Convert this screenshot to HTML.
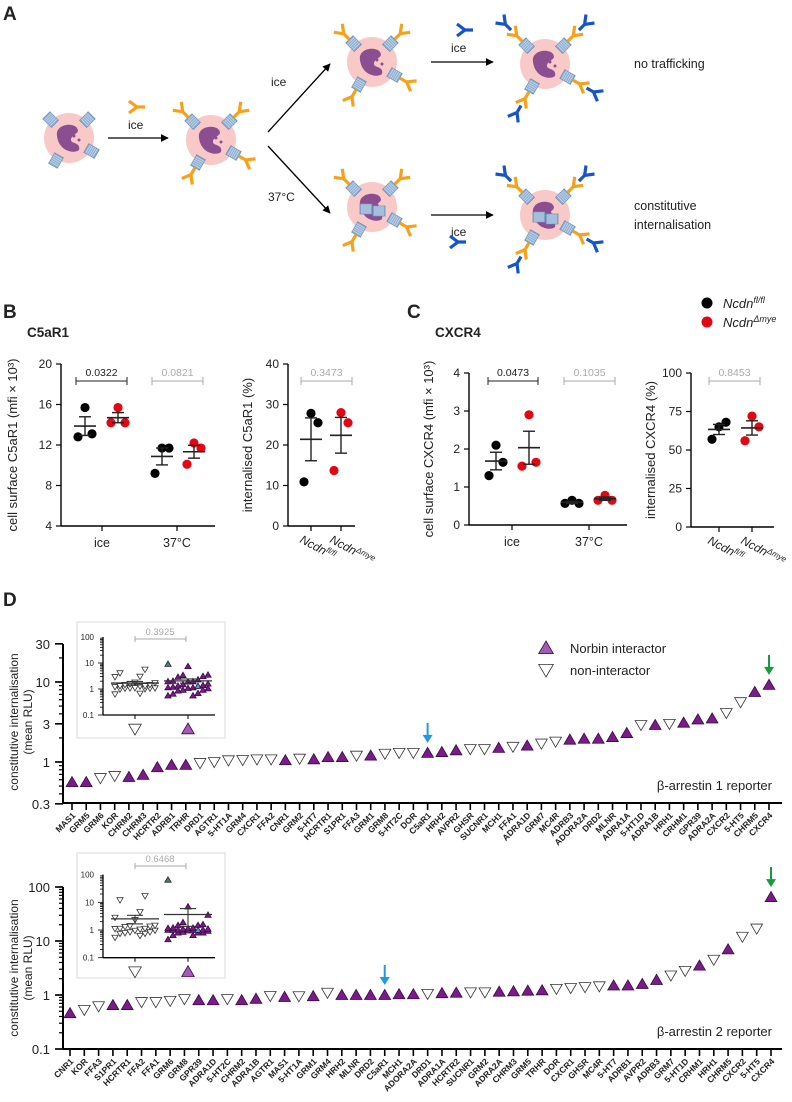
<!DOCTYPE html>
<html><head><meta charset="utf-8">
<style>
html,body{margin:0;padding:0;background:#fff;}
svg{display:block;font-family:"Liberation Sans",sans-serif;}
.t{font-family:"Liberation Sans",sans-serif;fill:#222;}
</style></head>
<body>
<svg id="fig" width="792" height="1102" viewBox="0 0 792 1102" xmlns="http://www.w3.org/2000/svg">
<g id="panelA"></g>
<g id="panelB"></g>
<g id="panelC"></g>
<g id="panelD1"></g>
<g id="panelD2"></g>
</svg>
<script>
// ===== Panel B data =====
const bIceBlack=[15.7,13.1,12.8];
const bIceRed=[15.7,14.2,14.2];
const b37Black=[11.7,11.7,9.2];
const b37Red=[12.2,11.7,10.1];
const bIntBlack=[27.8,25.5,10.9];
const bIntRed=[28.0,25.5,13.7];
const bPvals=["0.0322","0.0821","0.3473"];
// ===== Panel C data =====
const cIceBlack=[2.1,1.65,1.3];
const cIceRed=[2.9,1.65,1.55];
const c37Black=[0.65,0.57,0.57];
const c37Red=[0.78,0.65,0.65];
const cIntBlack=[65,68,57];
const cIntRed=[72,65,56];
const cPvals=["0.0473","0.1035","0.8453"];
// ===== Panel D (beta-arrestin 1) =====
const d1Names=["MAS1","GRM5","GRM6","KOR","CHRM2","CHRM3","HCRTR2","ADRB1","TRHR","DRD1","AGTR1","5-HT1A","GRM4","CXCR1","FFA2","CNR1","GRM2","5-HT7","HCRTR1","S1PR1","FFA3","GRM1","GRM8","5-HT2C","DOR","C5aR1","HRH2","AVPR2","GHSR","SUCNR1","MCH1","FFA1","ADRA1D","GRM7","MC4R","ADRB3","ADORA2A","DRD2","MLNR","ADRA1A","5-HT1D","ADRA1B","HRH1","CRHM1","GPR39","ADRA2A","CXCR2","5-HT5","CHRM5","CXCR4"];
const d1Values=[0.56,0.56,0.63,0.67,0.65,0.69,0.86,0.92,0.92,0.97,1.0,1.05,1.06,1.08,1.08,1.05,1.1,1.08,1.15,1.15,1.2,1.2,1.27,1.3,1.3,1.3,1.33,1.4,1.45,1.45,1.5,1.55,1.6,1.7,1.8,1.9,1.95,1.95,2.05,2.3,2.9,2.9,3.0,3.1,3.4,3.5,4.1,5.6,7.5,9.2];
const d1Interactor=[1,1,0,0,1,1,1,1,1,0,0,0,0,0,0,1,0,1,1,1,0,1,0,0,0,1,1,1,0,0,1,0,1,0,0,1,1,1,1,1,0,1,0,1,1,1,0,0,1,1];
const d1Ticks=["30","10","3","1","0.3"];
const d1TickVals=[30,10,3,1,0.3];
// ===== Panel D (beta-arrestin 2) =====
const d2Names=["CNR1","KOR","FFA3","S1PR1","HCRTR1","FFA2","FFA1","GRM6","GRM8","GPR39","ADRA1D","5-HT2C","CHRM2","ADRA1B","AGTR1","MAS1","5-HT1A","GRM1","GRM4","HRH2","MLNR","DRD2","C5aR1","MCH1","ADORA2A","DRD1","ADRA1A","HCRTR2","SUCNR1","GRM2","ADRA2A","CHRM3","GRM5","TRHR","DOR","CXCR1","GHSR","MC4R","5-HT7","ADRB1","AVPR2","ADRB3","GRM7","5-HT1D","CRHM1","HRH1","CHRM5","CXCR2","5-HT5","CXCR4"];
const d2Values=[0.46,0.53,0.62,0.65,0.65,0.74,0.74,0.78,0.84,0.8,0.8,0.84,0.8,0.85,0.96,0.92,0.95,0.95,1.1,1.0,1.0,1.0,1.0,1.03,1.03,1.05,1.08,1.1,1.12,1.12,1.15,1.17,1.2,1.22,1.3,1.35,1.4,1.45,1.5,1.5,1.6,1.9,2.3,2.8,3.5,4.5,7,12,17,65];
const d2Interactor=[1,0,0,1,1,0,0,0,0,1,1,0,1,1,0,1,0,1,0,1,1,1,1,1,1,0,1,1,0,0,1,1,1,1,0,0,0,0,1,1,1,1,0,0,1,0,1,0,0,1];
const d2Ticks=["100","10","1","0.1"];
const d2TickVals=[100,10,1,0.1];

const NS="http://www.w3.org/2000/svg";
function mk(parent,tag,attrs,text){const e=document.createElementNS(NS,tag);for(const k in attrs)e.setAttribute(k,attrs[k]);if(text!==undefined)e.textContent=text;parent.appendChild(e);return e;}
function mean(a){return a.reduce((s,v)=>s+v,0)/a.length;}
function sem(a){const m=mean(a);const sd=Math.sqrt(a.reduce((s,v)=>s+(v-m)*(v-m),0)/(a.length-1));return sd/Math.sqrt(a.length);}

// ===== Panel A =====
const A=document.getElementById('panelA');
let tA=mk(A,'text',{x:3,y:20,'font-size':19,'font-weight':'bold',class:'t'},'A');


function yShape(g,x,y,ang,col,s){
  const gg=mk(g,'g',{transform:`translate(${x},${y}) rotate(${ang}) scale(${s||1})`});
  mk(gg,'path',{d:'M0,8 L0,0 L-6,-8 M0,0 L6,-8',stroke:col,'stroke-width':3.2,fill:'none','stroke-linecap':'butt'});
  return gg;
}
function receptor(g,x,y,ang){
  const gg=mk(g,'g',{transform:`translate(${x},${y}) rotate(${ang})`});
  mk(gg,'rect',{x:-6,y:-5,width:12,height:10,fill:'#8fb0d4',stroke:'#6f8fb5','stroke-width':0.8});
  for(let i=-4;i<=4;i+=2)mk(gg,'line',{x1:i,y1:-5,x2:i,y2:5,stroke:'#c9dbef','stroke-width':0.7});
}
function cell(x,y,name,opts){
  const g=mk(A,'g',{});
  
  
  mk(g,'circle',{cx:x,cy:y,r:25,fill:'#f8c9c7'});
  mk(g,'path',{d:`M${x-12},${y-2} C${x-14},${y-14} ${x+4},${y-16} ${x+8},${y-10} C${x+12},${y-4} ${x+2},${y-4} ${x+2},${y+2} C${x+2},${y+6} ${x+12},${y+4} ${x+10},${y+12} C${x+6},${y+16} ${x-10},${y+14} ${x-12},${y-2} Z`,fill:'#8b4f91'});
  mk(g,'circle',{cx:x+5,cy:y-2,r:1.5,fill:'#8b4f91'});
  mk(g,'circle',{cx:x+10,cy:y+2,r:1.5,fill:'#8b4f91'});
  const angs=[-135,-45,30,120];
  angs.forEach((a,i)=>{
    const r=a*Math.PI/180;const rx=x+26*Math.cos(r),ry=y+26*Math.sin(r);
    receptor(g,rx,ry,a);
    if(opts.orange){
      const ox=x+40*Math.cos(r),oy=y+40*Math.sin(r);
      yShape(g,ox,oy,a+90,'#f7a11a');
      if(opts.blue){const bx=x+56*Math.cos(r),by=y+56*Math.sin(r);yShape(g,bx,by,a+90,'#1455c9');}
    }
  });
  if(opts.intern){
    receptor(g,x-6,y+2,0);receptor(g,x+7,y+4,0);
  }
}
cell(69,138,'cell-untreated',{});
cell(211,140,'cell-primary-antibody',{orange:1});
cell(372,62,'cell-ice',{orange:1});
cell(372,207,'cell-37c',{orange:1,intern:1});
cell(545,64,'cell-no-trafficking',{orange:1,blue:1});
cell(545,215,'cell-internalised',{orange:1,blue:1,intern:1});
mk(A,'defs',{}).innerHTML='<marker id="ah" viewBox="0 0 10 10" refX="9" refY="5" markerWidth="6" markerHeight="6" orient="auto"><path d="M0,0 L10,5 L0,10 Z" fill="#000"/></marker>';
function arrow(x1,y1,x2,y2,name){const l=mk(A,'line',{x1,y1,x2,y2,stroke:'#000','stroke-width':1.3,'marker-end':'url(#ah)'});}
arrow(108,138,168,138,'arrow-1');
arrow(268,132,330,64,'arrow-ice');
arrow(268,146,330,213,'arrow-37c');
arrow(431,62,493,62,'arrow-ice-2');
arrow(431,215,493,215,'arrow-ice-3');
function atext(x,y,s,name,size){const t=mk(A,'text',{x,y,'font-size':size||12,class:'t'},s);}
atext(128,129,'ice','label-ice-1');
atext(271,86,'ice','label-ice-2');
atext(268,201,'37°C','label-37c');
atext(451,52,'ice','label-ice-3');
atext(451,236,'ice','label-ice-4');
atext(634,68,'no trafficking','label-no-trafficking',12.5);
atext(634,210,'constitutive','label-constitutive',12.5);
atext(634,229,'internalisation','label-internalisation',12.5);
yShape(A,137,107,-90,'#f7a11a');
yShape(A,465,30,-90,'#1455c9');
yShape(A,458,242,-90,'#1455c9');

// ===== Scatter panel helper =====
function dotPlot(g,cfg){
  const sy=v=>cfg.yBot-(v-cfg.vMin)/(cfg.vMax-cfg.vMin)*(cfg.yBot-cfg.yTop);
  mk(g,'line',{x1:cfg.x0,y1:cfg.yTop,x2:cfg.x0,y2:cfg.yBot,stroke:'#000','stroke-width':1.4});
  mk(g,'line',{x1:cfg.x0,y1:cfg.yBot,x2:cfg.x1,y2:cfg.yBot,stroke:'#000','stroke-width':1.4});
  cfg.ticks.forEach(v=>{const y=sy(v);mk(g,'line',{x1:cfg.x0-5,y1:y,x2:cfg.x0,y2:y,stroke:'#000','stroke-width':1.2});
    const t=mk(g,'text',{x:cfg.x0-9,y:y+4,'text-anchor':'end','font-size':12,class:'t'},String(v));});
  cfg.catX.forEach((x,i)=>{mk(g,'line',{x1:x,y1:cfg.yBot,x2:x,y2:cfg.yBot+5,stroke:'#000','stroke-width':1.2});
    if(cfg.cats){const t=mk(g,'text',{x,y:cfg.yBot+21,'text-anchor':'middle','font-size':12.5,class:'t'},cfg.cats[i]);}
  });
  cfg.groups.forEach(gr=>{
    const offs=[0,7,-7];
    gr.vals.forEach((v,i)=>{const c=mk(g,'circle',{cx:gr.x+offs[i],cy:sy(v),r:4.6,fill:gr.col});});
    const m=mean(gr.vals),s=sem(gr.vals);
    mk(g,'line',{x1:gr.x-11,y1:sy(m),x2:gr.x+11,y2:sy(m),stroke:'#222','stroke-width':1.6});
    mk(g,'line',{x1:gr.x,y1:sy(m-s),x2:gr.x,y2:sy(m+s),stroke:'#222','stroke-width':1.4});
    mk(g,'line',{x1:gr.x-6,y1:sy(m-s),x2:gr.x+6,y2:sy(m-s),stroke:'#222','stroke-width':1.4});
    mk(g,'line',{x1:gr.x-6,y1:sy(m+s),x2:gr.x+6,y2:sy(m+s),stroke:'#222','stroke-width':1.4});
  });
  cfg.brackets.forEach(b=>{
    const col=b.gray?'#aaa':'#222';
    mk(g,'path',{d:`M${b.a},${b.y-4} V${b.y+4} M${b.a},${b.y} H${b.b} M${b.b},${b.y-4} V${b.y+4}`,stroke:col,'stroke-width':1,fill:'none'});
    const t=mk(g,'text',{x:(b.a+b.b)/2,y:b.y-5,'text-anchor':'middle','font-size':10.5,fill:b.gray?'#aaa':'#222'},b.p);
    
  });
  const tt=mk(g,'text',{x:0,y:0,'font-size':13,class:'t','text-anchor':'middle',transform:`translate(${cfg.titleX},${(cfg.yTop+cfg.yBot)/2}) rotate(-90)`},cfg.title);
  
  if(cfg.geno){
    cfg.catX.forEach((x,i)=>{
      const t=mk(g,'text',{x:0,y:0,'font-size':12,'font-style':'italic',class:'t',transform:`translate(${x-12},${cfg.yBot+16}) rotate(28)`});
      
      t.appendChild(document.createTextNode('Ncdn'));
      mk(t,'tspan',{'font-size':8,dy:-4},i==0?'fl/fl':'Δmye');
    });
  }
}
// Panel B
const B=document.getElementById('panelB');
let t=mk(B,'text',{x:3,y:318,'font-size':19,'font-weight':'bold',class:'t'},'B');
t=mk(B,'text',{x:27,y:337,'font-size':13.5,'font-weight':'bold',class:'t'},'C5aR1');
dotPlot(B,{x0:61,x1:215,yBot:526,yTop:364,vMin:4,vMax:20,ticks:[4,8,12,16,20],catX:[102,177],cats:['ice','37°C'],
  groups:[{x:85,vals:bIceBlack,col:'#000'},{x:118,vals:bIceRed,col:'#e30613'},{x:162,vals:b37Black,col:'#000'},{x:194,vals:b37Red,col:'#e30613'}],
  brackets:[{a:76,b:127,y:381,p:bPvals[0]},{a:152,b:203,y:381,p:bPvals[1],gray:1}],title:'cell surface C5aR1 (mfi × 10³)',titleX:17});
dotPlot(B,{x0:288,x1:355,yBot:526,yTop:364,vMin:0,vMax:40,ticks:[0,10,20,30,40],catX:[311,341],geno:1,
  groups:[{x:311,vals:bIntBlack,col:'#000'},{x:341,vals:bIntRed,col:'#e30613'}],
  brackets:[{a:301,b:352,y:381,p:bPvals[2],gray:1}],title:'internalised C5aR1 (%)',titleX:252});
// Panel C
const C=document.getElementById('panelC');
t=mk(C,'text',{x:407,y:318,'font-size':19,'font-weight':'bold',class:'t'},'C');
t=mk(C,'text',{x:435,y:337,'font-size':13.5,'font-weight':'bold',class:'t'},'CXCR4');
dotPlot(C,{x0:469,x1:627,yBot:525,yTop:373,vMin:0,vMax:4,ticks:[0,1,2,3,4],catX:[512,589],cats:['ice','37°C'],
  groups:[{x:496,vals:cIceBlack,col:'#000'},{x:529,vals:cIceRed,col:'#e30613'},{x:572,vals:c37Black,col:'#000'},{x:605,vals:c37Red,col:'#e30613'}],
  brackets:[{a:488,b:538,y:381,p:cPvals[0]},{a:564,b:615,y:381,p:cPvals[1],gray:1}],title:'cell surface CXCR4 (mfi × 10³)',titleX:433});
dotPlot(C,{x0:691,x1:774,yBot:527,yTop:373,vMin:0,vMax:100,ticks:[0,25,50,75,100],catX:[719,752],geno:1,
  groups:[{x:719,vals:cIntBlack,col:'#000'},{x:752,vals:cIntRed,col:'#e30613'}],
  brackets:[{a:709,b:760,y:381,p:cPvals[2],gray:1}],title:'internalised CXCR4 (%)',titleX:655});
[['#000','fl/fl',303],['#e30613','Δmye',322]].forEach(l=>{
  const g=mk(C,'g',{});
  mk(g,'circle',{cx:707,cy:l[2],r:5.5,fill:l[0]});
  const tx=mk(g,'text',{x:723,y:l[2]+5,'font-size':13,'font-style':'italic',class:'t'});
  tx.appendChild(document.createTextNode('Ncdn'));mk(tx,'tspan',{'font-size':9,dy:-5},l[1]);
});

// ===== Panel D =====
function tri(g,x,y,filled,s,col){
  s=s||5.6;
  const d=filled?`M${x},${y-s} L${x+s*1.05},${y+s*0.8} L${x-s*1.05},${y+s*0.8} Z`:`M${x},${y+s} L${x+s*1.05},${y-s*0.8} L${x-s*1.05},${y-s*0.8} Z`;
  return mk(g,'path',{d,fill:filled?(col||'#7b1a8a'):'#fff',stroke:filled?'#3b0a45':'#333','stroke-width':0.8});
}
function dPanel(g,cfg){
  const ly=v=>cfg.y1-(Math.log10(v))*cfg.dec;
  const xs=i=>cfg.xa+i*(cfg.xb-cfg.xa)/(cfg.names.length-1);
  mk(g,'line',{x1:63,y1:cfg.yTop,x2:63,y2:cfg.yBot,stroke:'#000','stroke-width':2});
  mk(g,'line',{x1:63,y1:cfg.yBot,x2:782,y2:cfg.yBot,stroke:'#000','stroke-width':2});
  for(let e=cfg.eMin;e<=cfg.eMax;e++)for(let k=1;k<10;k++){const v=k*Math.pow(10,e);const y=ly(v);if(y<cfg.yTop-0.5||y>cfg.yBot+0.5)continue;
    mk(g,'line',{x1:k==1?56:59,y1:y,x2:63,y2:y,stroke:'#000','stroke-width':1.2});}
  cfg.tickVals.forEach((v,i)=>{const y=ly(v);mk(g,'line',{x1:55,y1:y,x2:63,y2:y,stroke:'#000','stroke-width':1.6});
    const tt=mk(g,'text',{x:50,y:y+5,'text-anchor':'end','font-size':13,class:'t'},cfg.ticks[i]);});
  cfg.names.forEach((n,i)=>{
    const x=xs(i);
    mk(g,'line',{x1:x,y1:cfg.yBot,x2:x,y2:cfg.yBot+7,stroke:'#000','stroke-width':1.6});
    const tl=mk(g,'text',{x:0,y:0,'text-anchor':'end','font-size':8.6,'font-weight':'bold',class:'t',transform:`translate(${x+4},${cfg.yBot+13}) rotate(-45)`},n);
    
    const m=tri(g,x,ly(cfg.values[i]),cfg.inter[i]);
    
    
  });
  const tt=mk(g,'text',{x:0,y:0,'font-size':12,class:'t','text-anchor':'middle',transform:`translate(18,${cfg.titleY}) rotate(-90)`},'constitutive internalisation');
  
  const t2=mk(g,'text',{x:0,y:0,'font-size':12,class:'t','text-anchor':'middle',transform:`translate(32,${cfg.titleY}) rotate(-90)`},'(mean RLU)');
  
  const rt=mk(g,'text',{x:772,y:cfg.yBot-13,'text-anchor':'end','font-size':13,class:'t'},cfg.reporter);
  
  function darrow(i,col,nm,gap){const x=xs(i),y=ly(cfg.values[i])-gap;const a=mk(g,'g',{});
    mk(a,'line',{x1:x,y1:y-20,x2:x,y2:y-6,stroke:col,'stroke-width':2});mk(a,'path',{d:`M${x-5},${y-8} L${x+5},${y-8} L${x},${y} Z`,fill:col});}
  darrow(cfg.names.indexOf('C5aR1'),'#1e9be0','c5ar1-arrow',10);
  darrow(cfg.names.indexOf('CXCR4'),'#169c3a','cxcr4-arrow',10);
  const I=cfg.inset;const ig=mk(g,'g',{});
  mk(ig,'rect',{x:77,y:I.top,width:148,height:I.bot-I.top,fill:'#fff',stroke:'#d8d8d8','stroke-width':1});
  const iy=v=>I.y1-Math.log10(v)*I.dec;
  mk(ig,'line',{x1:103,y1:iy(100),x2:103,y2:iy(0.1),stroke:'#000','stroke-width':1.3});
  mk(ig,'line',{x1:103,y1:iy(0.1),x2:215,y2:iy(0.1),stroke:'#000','stroke-width':1.3});
  for(let e=-1;e<2;e++)for(let k=1;k<10;k++){const y=iy(k*Math.pow(10,e));mk(ig,'line',{x1:k==1?98:100,y1:y,x2:103,y2:y,stroke:'#000','stroke-width':0.8});}
  ['100','10','1','0.1'].forEach((s,i)=>{const v=[100,10,1,0.1][i];const tx=mk(ig,'text',{x:94,y:iy(v)+3,'text-anchor':'end','font-size':8,class:'t'},s);});
  [135,188].forEach(x=>mk(ig,'line',{x1:x,y1:iy(0.1),x2:x,y2:iy(0.1)+4,stroke:'#000','stroke-width':1}));
  tri(ig,135,iy(0.1)+14,0,6);tri(ig,188,iy(0.1)+14,1,6,'#a35bb5');
  [[0,135],[1,188]].forEach(([f,cx])=>{
    const vals=cfg.values.filter((v,i)=>cfg.inter[i]==f);
    let k=0;
    cfg.values.forEach((v,i)=>{if(cfg.inter[i]!=f)return;const dx=((k*5)%9-4)*5;k++;
      const col=cfg.names[i]=='CXCR4'?'#22a043':(cfg.names[i]=='C5aR1'?'#26b2d6':null);
      tri(ig,cx+dx,iy(v),f,3,col);});
    const m=mean(vals),s=sem(vals);
    mk(ig,'line',{x1:cx-24,y1:iy(m),x2:cx+24,y2:iy(m),stroke:'#333','stroke-width':1.3});
    mk(ig,'line',{x1:cx,y1:iy(m-s),x2:cx,y2:iy(m+s),stroke:'#333','stroke-width':1.1});
    mk(ig,'line',{x1:cx-8,y1:iy(m+s),x2:cx+8,y2:iy(m+s),stroke:'#333','stroke-width':1.1});
    mk(ig,'line',{x1:cx-8,y1:iy(m-s),x2:cx+8,y2:iy(m-s),stroke:'#333','stroke-width':1.1});
  });
  mk(ig,'path',{d:`M135,${I.pY-3} V${I.pY+3} M135,${I.pY} H186 M186,${I.pY-3} V${I.pY+3}`,stroke:'#aaa','stroke-width':1,fill:'none'});
  const pt=mk(ig,'text',{x:160,y:I.pY-4,'text-anchor':'middle','font-size':9.5,fill:'#aaa'},I.p);
}
const D1=document.getElementById('panelD1');
t=mk(D1,'text',{x:3,y:606,'font-size':19,'font-weight':'bold',class:'t'},'D');
dPanel(D1,{names:d1Names,values:d1Values,inter:d1Interactor,ticks:d1Ticks,tickVals:d1TickVals,y1:762,dec:80,yTop:644,yBot:803,eMin:-1,eMax:1,xa:72,xb:769,titleY:722,reporter:'β-arrestin 1 reporter',
  inset:{top:622,bot:738,y1:689,dec:26,pY:639,p:'0.3925'}});
const D2=document.getElementById('panelD2');
dPanel(D2,{names:d2Names,values:d2Values,inter:d2Interactor,ticks:d2Ticks,tickVals:d2TickVals,y1:995,dec:54,yTop:887,yBot:1049,eMin:-1,eMax:2,xa:70,xb:771,titleY:968,reporter:'β-arrestin 2 reporter',
  inset:{top:853,bot:978,y1:930,dec:27.7,pY:866,p:'0.6468'}});
const lg=mk(D1,'g',{});
tri(lg,546,648,1,7,'#a35bb5');tri(lg,546,670,0,7);
t=mk(lg,'text',{x:570,y:653,'font-size':13,class:'t'},'Norbin interactor');
t=mk(lg,'text',{x:570,y:675,'font-size':13,class:'t'},'non-interactor');
</script>
</body></html>
